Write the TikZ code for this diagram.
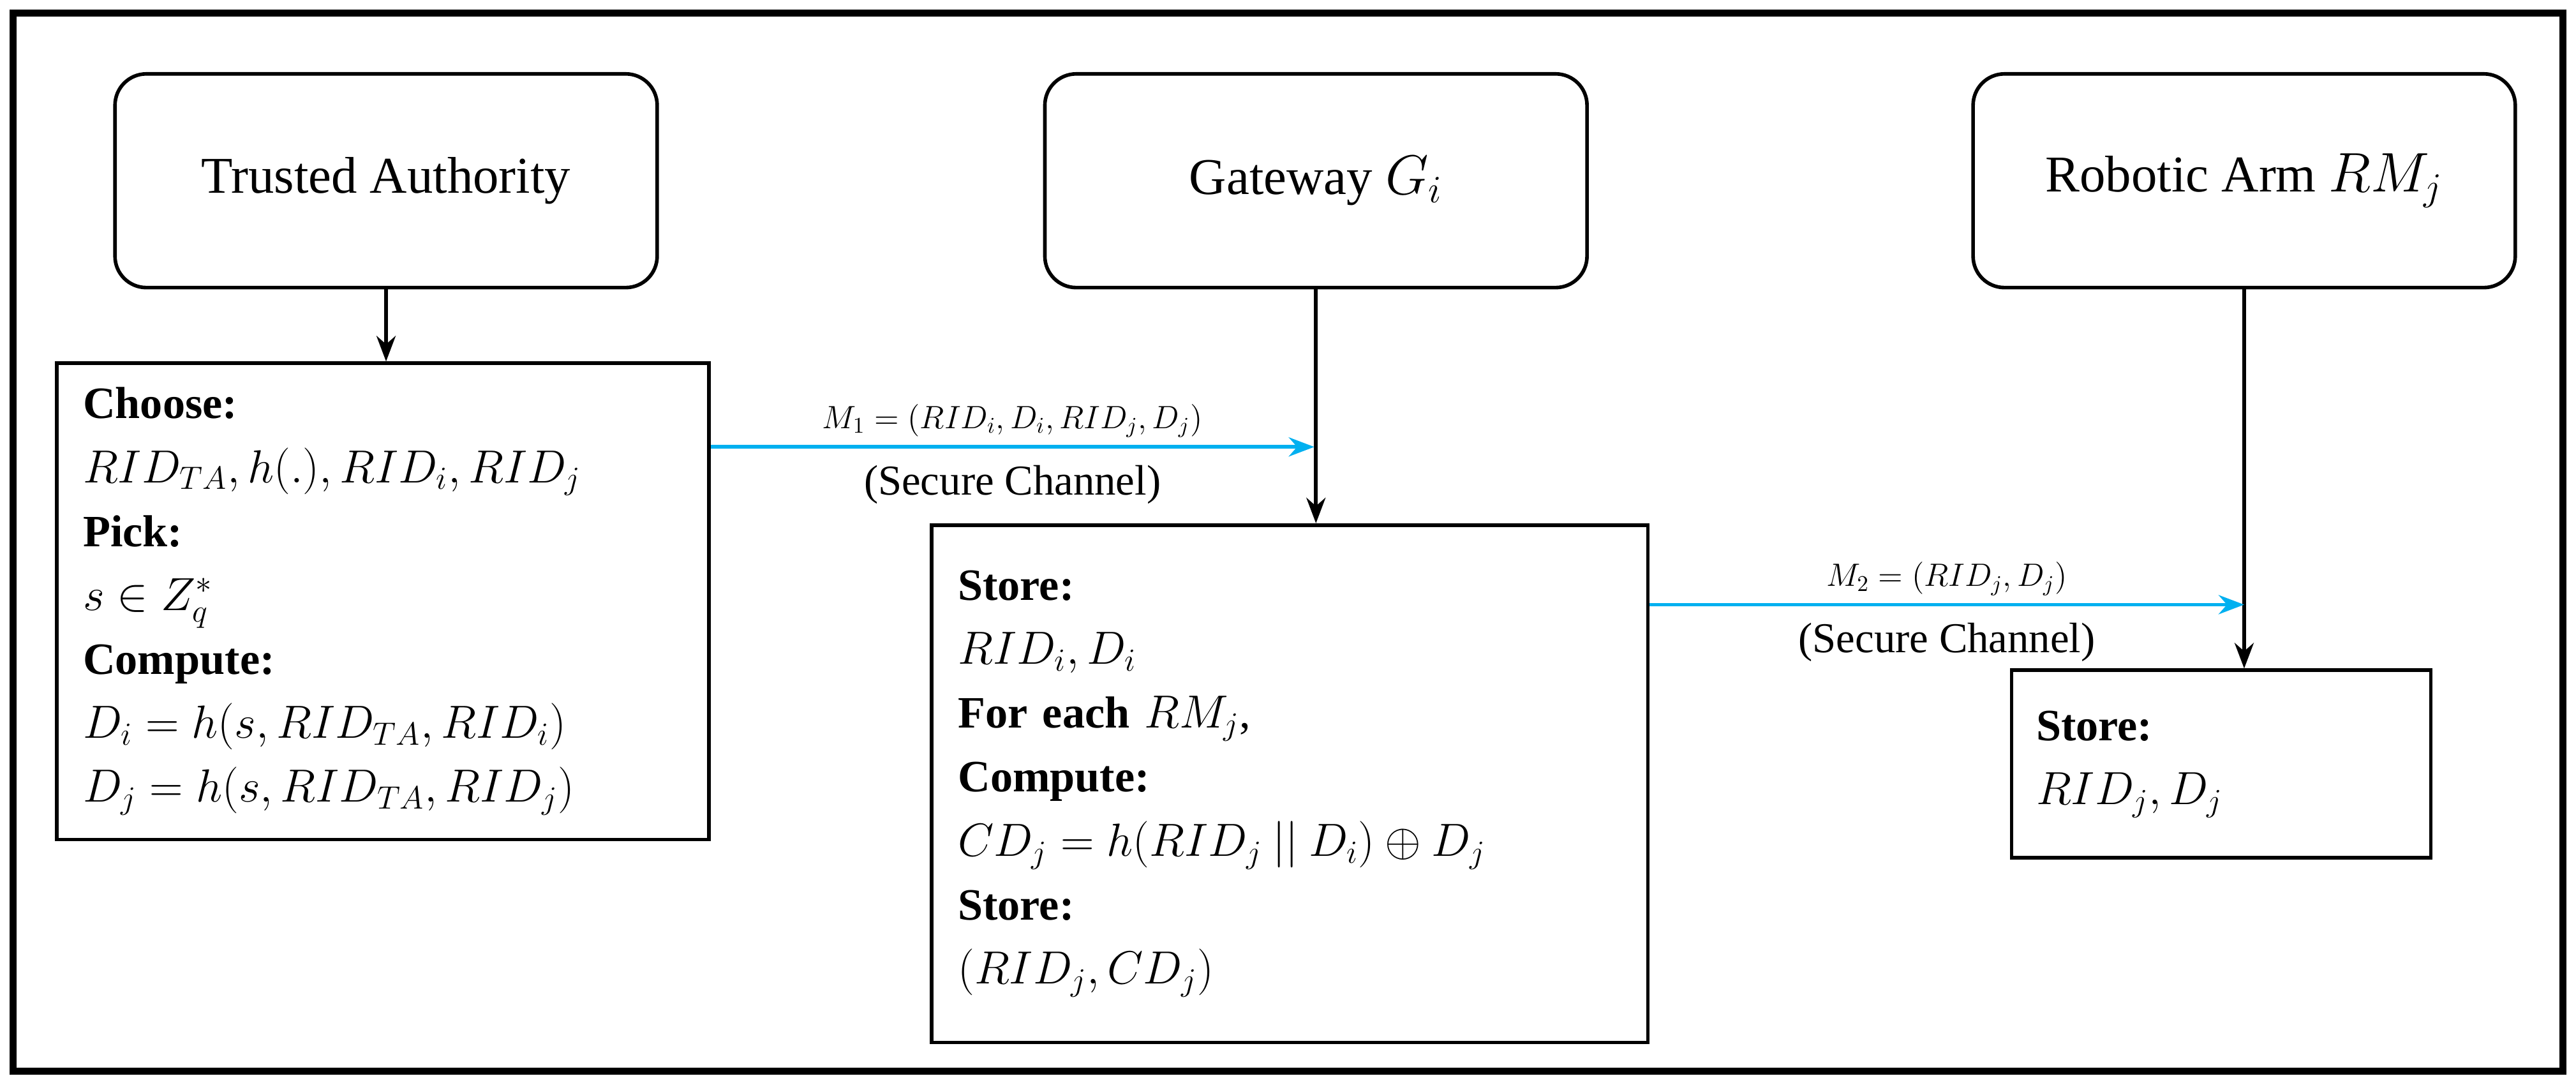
\documentclass[tikz,border=0pt]{standalone}
\usepackage{fontspec}
\usepackage{amsmath,amssymb}
\setmainfont{Liberation Serif}
\usetikzlibrary{arrows.meta, positioning}
\definecolor{chanblue}{RGB}{0, 176, 240}
\tikzset{
    party/.style={
        rectangle, rounded corners=14pt, minimum width=8.5cm, minimum height=3.35cm,
        draw=black, line width=1.6pt, font=\fontsize{23}{28}\selectfont
    },
    stepbox/.style={
        rectangle, draw=black, line width=1.6pt, align=left, inner sep=0.38cm,
        font=\fontsize{20}{28.5}\selectfont
    },
    arrow/.style={-{Stealth[length=4mm]}, line width=1.6pt, color=black},
    chanarrow/.style={-{Stealth[length=4mm]}, line width=1.6pt, draw=chanblue},
    msg/.style={font=\fontsize{14}{17}\selectfont, text=black},
    chan/.style={font=\fontsize{19}{23}\selectfont, text=black},
}
\begin{document}
\begin{tikzpicture}[x=0.02575cm, y=-0.02575cm]
    \useasboundingbox (0,0) rectangle (1568,659);
    \draw[line width=3pt] (8,8) rectangle (1560,652);

    \node[party] (ta) at (235,110) {Trusted Authority};
    \node[party] (gw) at (801,110) {Gateway $G_i$};
    \node[party] (rm) at (1366,110) {Robotic Arm $RM_j$};

    \node[stepbox, minimum width=10.22cm, minimum height=7.42cm, text width=9.4cm] (taset) at (233,366) {%
        \textbf{Choose:}\\ $RID_{TA}, h(.), RID_i, RID_j$\\
        \textbf{Pick:}\\ $s \in Z_q^*$\\
        \textbf{Compute:}\\ $D_i = h(s, RID_{TA}, RID_i)$\\ $D_j = h(s, RID_{TA}, RID_j)$};
    \node[stepbox, minimum width=11.23cm, minimum height=8.11cm, text width=10.4cm] (gwset) at (785,477) {%
        \textbf{Store:}\\ $RID_i, D_i$\\
        \textbf{For each} $RM_j$,\\
        \textbf{Compute:}\\ $CD_j = h(RID_j \mathbin{||} D_i) \oplus D_j$\\
        \textbf{Store:}\\ $(RID_j, CD_j)$};
    \node[stepbox, minimum width=6.57cm, minimum height=2.94cm, text width=5.8cm] (rmset) at (1352,465) {%
        \textbf{Store:}\\ $RID_j, D_j$};

    \draw[arrow] (ta) -- (ta |- taset.north);
    \draw[arrow] (gw) -- (gw |- gwset.north);
    \draw[arrow] (rm) -- (rm |- rmset.north);

    \coordinate (m1end) at (800,272);
    \coordinate (m2end) at (1366,368);
    \draw[chanarrow] (taset.east |- m1end) -- node[above, msg] {$M_1 = (RID_i, D_i, RID_j, D_j)$}
        node[below, chan, yshift=-4pt] {(Secure Channel)} (m1end);
    \draw[chanarrow] (gwset.east |- m2end) -- node[above, msg] {$M_2 = (RID_j, D_j)$}
        node[below, chan, yshift=-4pt] {(Secure Channel)} (m2end);
\end{tikzpicture}
\end{document}
